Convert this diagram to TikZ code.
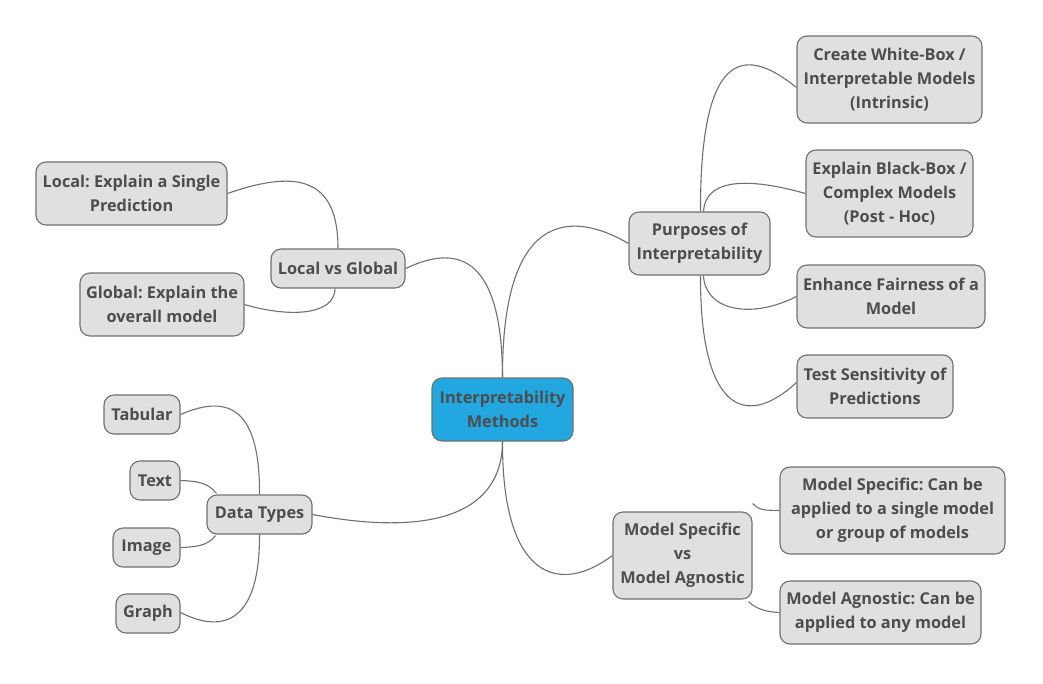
\documentclass[tikz,border=0pt]{standalone}
\usepackage{fontspec}
\setmainfont{Open Sans}[BoldFont={Open Sans Bold}]
\frenchspacing
\definecolor{txt}{HTML}{4D4D4D}
\definecolor{bord}{HTML}{707070}
\definecolor{boxfill}{HTML}{E0E0E0}
\definecolor{centerfill}{HTML}{22A7E0}
\tikzset{
  topic/.style={draw=bord, line width=1.1pt, fill=boxfill, rounded corners=10pt,
    text=txt, font=\fontsize{16.3}{24}\selectfont\bfseries, align=center,
    inner sep=0pt, minimum width=#1},
  topic/.default=60pt,
  link/.style={draw=bord, line width=1.1pt}
}
\begin{document}
\begin{tikzpicture}[x=1pt,y=-1pt]
\useasboundingbox (0,0) rectangle (1043,683);
% nodes
\node[topic=141pt, minimum height=63pt, fill=centerfill] (c) at (502.5,409.5) {Interpretability\\Methods};
\node[topic=141pt, minimum height=63pt] (p) at (699.5,243.5) {Purposes of\\Interpretability};
\node[topic=185pt, minimum height=87pt] (p1) at (889.5,79.5) {Create White-Box /\\Interpretable Models\\(Intrinsic)};
\node[topic=167pt, minimum height=87pt] (p2) at (889.5,193.5) {Explain Black-Box /\\Complex Models\\(Post - Hoc)};
\node[topic=188pt, minimum height=63pt] (p3) at (891,296.5) {Enhance Fairness of a\\Model};
\node[topic=156pt, minimum height=63pt] (p4) at (875,386.5) {Test Sensitivity of\\Predictions};
\node[topic=134pt, minimum height=39pt] (lg) at (338,268.5) {Local vs Global};
\node[topic=191pt, minimum height=63pt] (l1) at (131.5,193.5) {Local: Explain a Single\\Prediction};
\node[topic=164pt, minimum height=63pt] (l2) at (162,304.5) {Global: Explain the\\overall model};
\node[topic=105pt, minimum height=39pt] (dt) at (259.5,514.5) {Data Types};
\node[topic=76pt, minimum height=39pt] (d1) at (142,414.5) {Tabular};
\node[topic=50pt, minimum height=39pt] (d2) at (155,480.5) {Text};
\node[topic=67pt, minimum height=39pt] (d3) at (146.5,547.5) {Image};
\node[topic=64pt, minimum height=39pt] (d4) at (148,613.5) {Graph};
\node[topic=139pt, minimum height=87pt] (m) at (682.5,555.5) {Model Specific\\vs\\Model Agnostic};
\node[topic=225pt, minimum height=87pt] (m1) at (892.5,510.5) {Model Specific: Can be\\applied to a single model\\or group of models};
\node[topic=201pt, minimum height=63pt] (m2) at (880.5,612.5) {Model Agnostic: Can be\\applied to any model};
% connectors
\path[link] (c.north) .. controls (502,200) and (580,215) .. (p.west);
\path[link] (c.north) .. controls (502,240) and (445,250) .. (lg.east);
\path[link] (c.south) .. controls (502,520) and (420,535) .. (dt.east);
\path[link] (c.south) .. controls (502,580) and (560,595) .. (m.west);
\coordinate (pt) at ([xshift=1pt]p.north);
\coordinate (ptr) at ([xshift=4pt]p.north);
\coordinate (pb) at ([xshift=1pt]p.south);
\coordinate (pbr) at ([xshift=4pt]p.south);
\path[link] (pt) .. controls (700,40) and (750,50) .. ([yshift=-8pt]p1.west);
\path[link] (ptr) .. controls (705,182) and (740,175) .. (p2.west);
\path[link] (pbr) .. controls (705,310) and (750,320) .. (p3.west);
\path[link] (pb) .. controls (700,410) and (745,430) .. ([yshift=4pt]p4.west);
\path[link] (lg.north) .. controls (338,180) and (300,168) .. (l1.east);
\path[link] ([xshift=-3pt]lg.south) .. controls (335,315) and (290,318) .. (l2.east);
\path[link] (dt.north) .. controls (260,410) and (230,393) .. (d1.east);
\coordinate (dtnw) at ([shift={(10pt,1pt)}]dt.north west);
\coordinate (dtsw) at ([shift={(9pt,-1pt)}]dt.south west);
\coordinate (mne) at ([shift={(0pt,8pt)}]m.north east);
\coordinate (mse) at ([shift={(-4pt,-2pt)}]m.south east);
\path[link] (dtnw) .. controls (208,482) and (195,481) .. (d2.east);
\path[link] (dtsw) .. controls (208,546) and (195,547) .. (d3.east);
\path[link] (dt.south) .. controls (260,620) and (225,635) .. ([yshift=1pt]d4.east);
\path[link] (mne) .. controls (760,511) and (765,510) .. (m1.west);
\path[link] (mse) .. controls (755,608) and (765,612) .. (m2.west);
\end{tikzpicture}
\end{document}
